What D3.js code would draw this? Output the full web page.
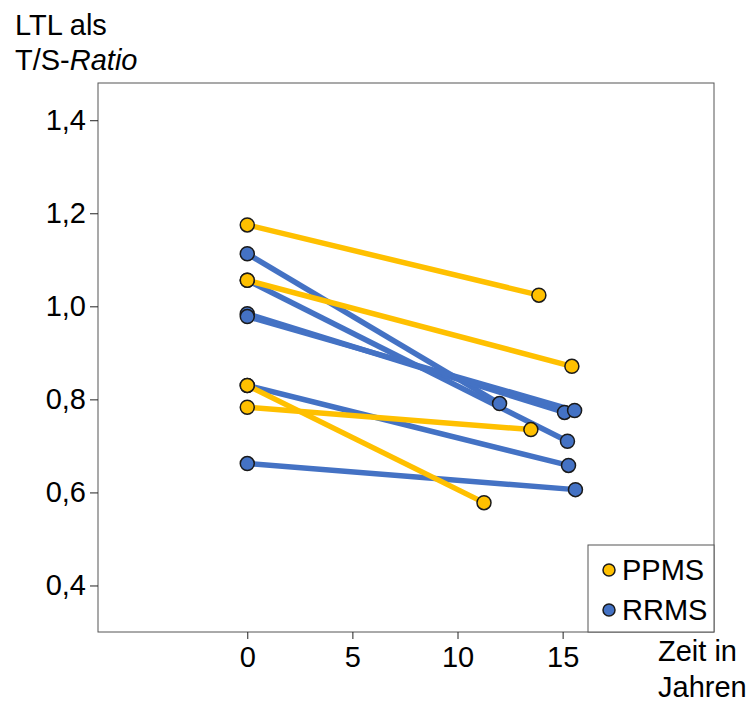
<!DOCTYPE html>
<html>
<head>
<meta charset="utf-8">
<script src="https://cdn.jsdelivr.net/npm/d3@7"></script>
<style>
  body { margin: 0; background: #fff; }
  text { font-family: "Liberation Sans", Arial, sans-serif; fill: #000; }
</style>
</head>
<body>
<script>
// values
var groups = ["PPMS", "RRMS"];
var ppmsBaseline = [1.175, 1.056, 0.830, 0.783];
var ppmsFollowYears = [13.87, 15.44, 11.26, 13.49];
var ppmsFollow = [1.024, 0.871, 0.578, 0.735];
var rrmsBaseline = [1.113, 1.056, 0.984, 0.978, 0.830, 0.662];
var rrmsFollowYears = [12.0, 15.23, 15.09, 15.57, 15.28, 15.61];
var rrmsFollow = [0.791, 0.710, 0.772, 0.776, 0.658, 0.606];
var xTicks = [0, 5, 10, 15];
var yTicks = [0.4, 0.6, 0.8, 1.0, 1.2, 1.4];

var colors = { PPMS: "#FFC000", RRMS: "#4472C4" };

var width = 751, height = 704;
var plot = { left: 98, top: 83, right: 714, bottom: 632 };
var fontSize = "29px";

var svg = d3.select("body").append("svg")
  .attr("width", width)
  .attr("height", height);

var x = d3.scaleLinear().domain([-7.1, 22.2]).range([plot.left, plot.right]);
var y = d3.scaleLinear().domain([0.30, 1.48]).range([plot.bottom, plot.top]);

var de = d3.formatLocale({ decimal: ",", thousands: ".", grouping: [3], currency: ["", "€"] });
var fmt = de.format(".1f");

function pairs(base, years, follow, group) {
  return base.map(function (b, i) {
    return { group: group, x0: 0, y0: b, x1: years[i], y1: follow[i] };
  });
}
var rrms = pairs(rrmsBaseline, rrmsFollowYears, rrmsFollow, "RRMS");
var ppms = pairs(ppmsBaseline, ppmsFollowYears, ppmsFollow, "PPMS");
var all = rrms.concat(ppms);

// frame
svg.append("rect")
  .attr("x", plot.left).attr("y", plot.top)
  .attr("width", plot.right - plot.left)
  .attr("height", plot.bottom - plot.top)
  .attr("fill", "none")
  .attr("stroke", "#555")
  .attr("stroke-width", 1);

// axes
var yAxis = d3.axisLeft(y).tickValues(yTicks).tickFormat(fmt).tickSize(8).tickPadding(4);
var gy = svg.append("g").attr("transform", "translate(" + plot.left + ",0)").call(yAxis);
gy.select(".domain").remove();
gy.selectAll("line").attr("stroke", "#222");
gy.selectAll("text").style("font-size", fontSize).attr("font-family", "Liberation Sans, Arial, sans-serif");

var xAxis = d3.axisBottom(x).tickValues(xTicks).tickFormat(d3.format("d")).tickSize(7).tickPadding(7);
var gx = svg.append("g").attr("transform", "translate(0," + plot.bottom + ")").call(xAxis);
gx.select(".domain").remove();
gx.selectAll("line").attr("stroke", "#222");
gx.selectAll("text").style("font-size", fontSize).attr("font-family", "Liberation Sans, Arial, sans-serif");

// lines
svg.append("g").selectAll("line")
  .data(all)
  .join("line")
  .attr("x1", function (d) { return x(d.x0); })
  .attr("y1", function (d) { return y(d.y0); })
  .attr("x2", function (d) { return x(d.x1); })
  .attr("y2", function (d) { return y(d.y1); })
  .attr("stroke", function (d) { return colors[d.group]; })
  .attr("stroke-width", 5.5);

// points
var pts = [];
all.forEach(function (d) {
  pts.push({ group: d.group, x: d.x0, y: d.y0 });
  pts.push({ group: d.group, x: d.x1, y: d.y1 });
});
svg.append("g").selectAll("circle")
  .data(pts)
  .join("circle")
  .attr("cx", function (d) { return x(d.x); })
  .attr("cy", function (d) { return y(d.y); })
  .attr("r", 7)
  .attr("fill", function (d) { return colors[d.group]; })
  .attr("stroke", "#1a1a1a")
  .attr("stroke-width", 1.5);

// legend
var legend = svg.append("g");
legend.append("rect")
  .attr("x", 588).attr("y", 545)
  .attr("width", plot.right - 588)
  .attr("height", plot.bottom - 545)
  .attr("fill", "#fff")
  .attr("stroke", "#555");
groups.forEach(function (g, i) {
  legend.append("circle")
    .attr("cx", 609).attr("cy", 570 + i * 40)
    .attr("r", 6)
    .attr("fill", colors[g])
    .attr("stroke", "#1a1a1a")
    .attr("stroke-width", 1.5);
  legend.append("text")
    .attr("x", 622).attr("y", 580 + i * 40)
    .style("font-size", fontSize)
    .text(g);
});

// axis titles
var yt = svg.append("text").attr("x", 15).attr("y", 35).style("font-size", fontSize);
yt.append("tspan").text("LTL als");
var yt2 = svg.append("text").attr("x", 15).attr("y", 70).style("font-size", fontSize);
yt2.append("tspan").text("T/S-");
yt2.append("tspan").style("font-style", "italic").text("Ratio");

svg.append("text").attr("x", 658).attr("y", 661).style("font-size", fontSize).text("Zeit in");
svg.append("text").attr("x", 658).attr("y", 697).style("font-size", fontSize).text("Jahren");
</script>
</body>
</html>
